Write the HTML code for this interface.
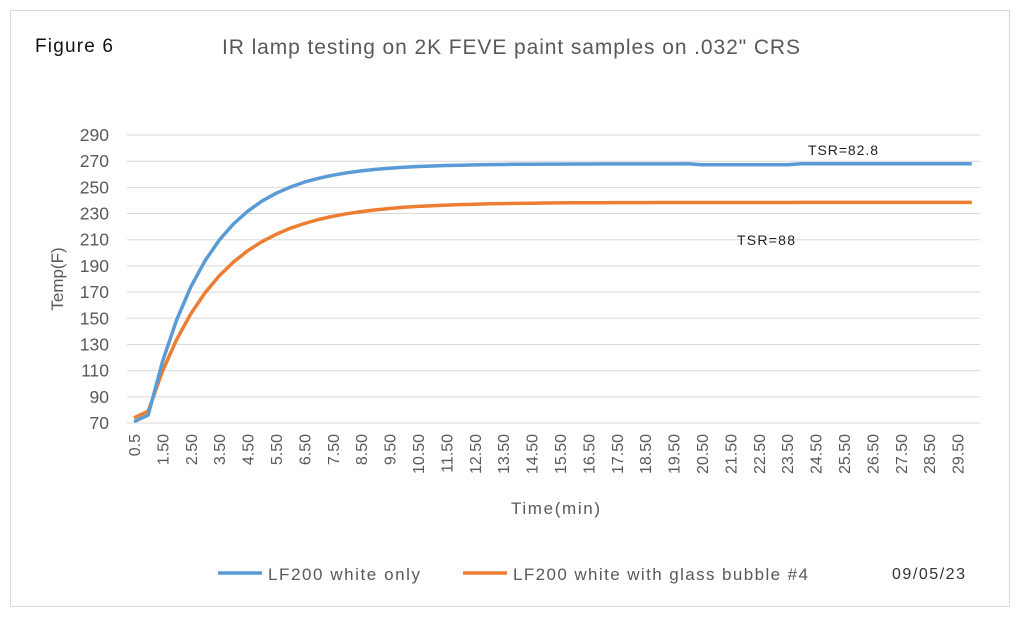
<!DOCTYPE html>
<html><head><meta charset="utf-8"><style>
body{margin:0;background:#fff}
svg{display:block;font-family:"Liberation Sans",sans-serif}
</style></head><body>
<svg id="s" width="1020" height="619" xmlns="http://www.w3.org/2000/svg">
<rect x="10.5" y="10.5" width="999" height="596" fill="#fff" stroke="#d9d9d9"/>
<text x="35" y="52" font-size="19" fill="#111" textLength="78">Figure 6</text>
<text x="222" y="54" font-size="21" fill="#595959" textLength="578">IR lamp testing on 2K FEVE paint samples on .032" CRS</text>
<g id="grid"></g>
<text transform="translate(63,279) rotate(-90)" font-size="17" fill="#595959" text-anchor="middle">Temp(F)</text>
<text x="511" y="514" font-size="17" fill="#595959" textLength="89">Time(min)</text>
<polyline id="o" fill="none" stroke="#ed7d31" stroke-width="3.5" stroke-linejoin="round"/>
<polyline id="b" fill="none" stroke="#5b9bd5" stroke-width="3.5" stroke-linejoin="round"/>
<text x="808" y="155" font-size="14" fill="#222" textLength="70">TSR=82.8</text>
<text x="737" y="245" font-size="14" fill="#222" textLength="58">TSR=88</text>
<line x1="218" y1="573" x2="262" y2="573" stroke="#5b9bd5" stroke-width="3.5"/>
<text x="268" y="580" font-size="17" fill="#595959" textLength="152">LF200 white only</text>
<line x1="463" y1="573" x2="507" y2="573" stroke="#ed7d31" stroke-width="3.5"/>
<text x="513" y="580" font-size="17" fill="#595959" textLength="295">LF200 white with glass bubble #4</text>
<text x="892" y="579" font-size="16" fill="#333" textLength="73">09/05/23</text>
</svg>
<script>
var NS="http://www.w3.org/2000/svg",g=document.getElementById("grid");
function el(t,a,txt){var e=document.createElementNS(NS,t);for(var k in a)e.setAttribute(k,a[k]);if(txt)e.textContent=txt;g.appendChild(e);return e;}
function Y(v){return 423-(v-70)*26.18/20;}
for(var v=70;v<=290;v+=20){el("line",{x1:127,x2:980,y1:Y(v),y2:Y(v),stroke:"#d9d9d9"});
el("text",{x:109,y:Y(v)+6,"font-size":17.5,fill:"#595959","text-anchor":"end"},String(v));}
function X(i){return 134+i*14.2;}
for(var i=0;i<60;i+=2){var t=0.5+i*0.5;var s=i==0?"0.5":t.toFixed(2);
el("text",{transform:"translate("+(X(i)+6)+",434) rotate(-90)","font-size":16,fill:"#595959","text-anchor":"end"},s);}
var bp=[],op=[];
for(var i=0;i<60;i++){var t=0.5+i*0.5,b,o;
if(i==0){b=71;o=74}else if(i==1){b=76;o=79}else{
b=268-192*Math.exp(-(t-1)/2.1);o=238.5-159*Math.exp(-(t-1)/2.4);}
if(t>20&&t<24)b-=0.7;
bp.push(X(i)+","+Y(b).toFixed(1));op.push(X(i)+","+Y(o).toFixed(1));}
document.getElementById("b").setAttribute("points",bp.join(" "));
document.getElementById("o").setAttribute("points",op.join(" "));
</script>
</body></html>
